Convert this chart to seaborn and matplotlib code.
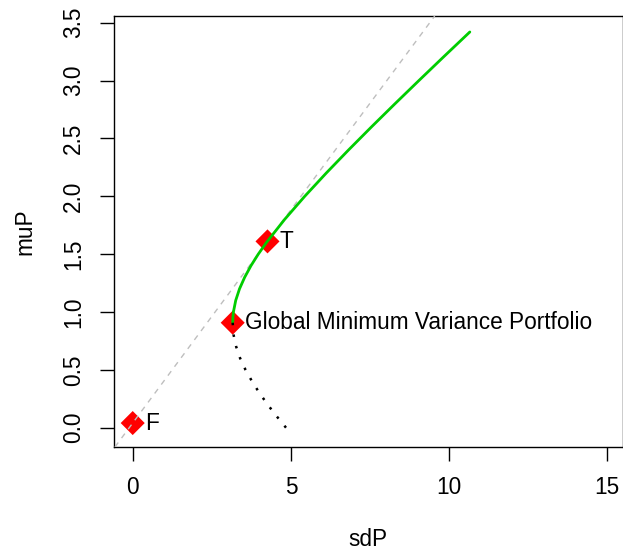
import numpy as np
import pandas as pd
import matplotlib
matplotlib.use("Agg")
import matplotlib.pyplot as plt
import seaborn as sns

# frontier
mu_eff = [0.907, 0.95, 1.0, 1.1, 1.2, 1.3, 1.4, 1.5, 1.6, 1.8, 2.0, 2.2, 2.4,
          2.6, 2.8, 3.0, 3.2, 3.42]
sd_eff = [3.16, 3.166, 3.183, 3.256, 3.376, 3.539, 3.738, 3.969, 4.226, 4.802,
          5.438, 6.115, 6.821, 7.548, 8.291, 9.045, 9.807, 10.655]
mu_ineff = [0.907, 0.8, 0.7, 0.6, 0.5, 0.4, 0.3, 0.2, 0.1, 0.0, -0.03]
sd_ineff = [3.16, 3.190, 3.270, 3.395, 3.565, 3.772, 4.005, 4.264, 4.546, 4.845, 4.937]

# special portfolios
pt_names = ["F", "T", "Global Minimum Variance Portfolio"]
pt_sd = [0.0, 4.26, 3.16]
pt_mu = [0.04, 1.61, 0.907]

sns.set_theme(style="ticks")
plt.rcParams['font.family'] = ['Liberation Sans', 'DejaVu Sans']
plt.rcParams['text.color'] = 'black'
plt.rcParams['axes.labelcolor'] = 'black'
FS = 16.3

fig = plt.figure(figsize=(6.23, 5.53), dpi=100)
ax = fig.add_axes([114 / 623, (553 - 447) / 553, 508.5 / 623, 431 / 553])

eff = pd.DataFrame({"sdP": sd_eff, "muP": mu_eff})
ineff = pd.DataFrame({"sdP": sd_ineff, "muP": mu_ineff})
pts = pd.DataFrame({"sdP": pt_sd, "muP": pt_mu, "name": pt_names})

sns.scatterplot(data=pts, x="sdP", y="muP", marker="D", s=150, color="red",
                linewidth=0, edgecolor="none", ax=ax, zorder=2)

# tangency line from F through T
ax.axline((pt_sd[0], pt_mu[0]), (pt_sd[1], pt_mu[1]), color="#BEBEBE",
          lw=1, linestyle=(0, (4, 4)), zorder=3)

sns.lineplot(data=eff, x="sdP", y="muP", sort=False, estimator=None,
             color="#00CD00", lw=2, ax=ax, zorder=4)
sns.lineplot(data=ineff, x="sdP", y="muP", sort=False, estimator=None,
             color="black", lw=1.8, linestyle=(0, (1, 3.7)), ax=ax, zorder=4,
             dash_capstyle="butt")

for n, x, y in zip(pt_names, pt_sd, pt_mu):
    ax.annotate(n, (x, y), xytext=(9, 0), textcoords="offset points",
                ha="left", va="center", fontsize=FS, color="black")

ax.set_xlim(-0.591, 15.48)
ax.set_ylim(-0.167, 3.558)
ax.set_xticks([0, 5, 10, 15])
ax.set_yticks([0.0, 0.5, 1.0, 1.5, 2.0, 2.5, 3.0, 3.5])
ax.set_yticklabels(["0.0", "0.5", "1.0", "1.5", "2.0", "2.5", "3.0", "3.5"])

for s in ax.spines.values():
    s.set_color("black")
    s.set_linewidth(1)
ax.tick_params(axis="both", direction="out", length=10, width=1,
               color="black", labelsize=FS, labelcolor="black")
ax.tick_params(axis="x", pad=11)
ax.tick_params(axis="y", pad=11)
for lab in ax.get_yticklabels():
    lab.set_rotation(90)
    lab.set_va("center")

ax.set_xlabel("sdP", fontsize=FS)
ax.set_ylabel("muP", fontsize=FS)
ax.xaxis.set_label_coords(0.5, -(540 - 447) / 431)
ax.xaxis.label.set_va("center")
ax.yaxis.set_label_coords((25 - 114) / 508.5, 0.5)
ax.yaxis.label.set_va("center")

fig.savefig("out.png", dpi=100)
